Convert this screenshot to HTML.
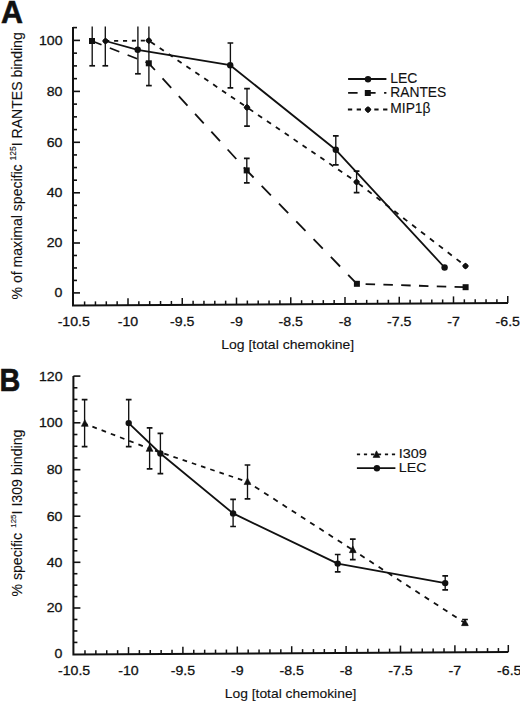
<!DOCTYPE html><html><head><meta charset="utf-8"><title>Chemokine binding</title><style>html,body{margin:0;padding:0;background:#fff;overflow:hidden}svg{display:block}text{font-family:"Liberation Sans",sans-serif;fill:#111;stroke:#111;stroke-width:0.12px}.t{stroke-width:0.28px}</style></head><body>
<svg width="520" height="704" viewBox="0 0 520 704">
<rect width="520" height="704" fill="#fff"/>
<g stroke="#111" fill="#111" stroke-linecap="butt">
<text transform="translate(1.0,23.4) scale(0.95,1)" font-size="32" font-weight="bold" style="stroke-width:0.6px">A</text>
<path d="M73.0,27.1 V305.5 L508.0,303.1" fill="none" stroke-width="2" stroke-linejoin="miter"/>
<line x1="73.00" y1="292.90" x2="80.00" y2="292.90" stroke-width="1.6" />
<text class="t" transform="translate(62.50,297.30) scale(1.09,1)" font-size="13" text-anchor="end">0</text>
<line x1="73.00" y1="280.42" x2="77.00" y2="280.42" stroke-width="1.6" />
<line x1="73.00" y1="267.95" x2="77.00" y2="267.95" stroke-width="1.6" />
<line x1="73.00" y1="255.47" x2="77.00" y2="255.47" stroke-width="1.6" />
<line x1="73.00" y1="243.00" x2="80.00" y2="243.00" stroke-width="1.6" />
<text class="t" transform="translate(62.50,247.40) scale(1.09,1)" font-size="13" text-anchor="end">20</text>
<line x1="73.00" y1="230.45" x2="77.00" y2="230.45" stroke-width="1.6" />
<line x1="73.00" y1="217.90" x2="77.00" y2="217.90" stroke-width="1.6" />
<line x1="73.00" y1="205.35" x2="77.00" y2="205.35" stroke-width="1.6" />
<line x1="73.00" y1="192.80" x2="80.00" y2="192.80" stroke-width="1.6" />
<text class="t" transform="translate(62.50,197.20) scale(1.09,1)" font-size="13" text-anchor="end">40</text>
<line x1="73.00" y1="180.18" x2="77.00" y2="180.18" stroke-width="1.6" />
<line x1="73.00" y1="167.55" x2="77.00" y2="167.55" stroke-width="1.6" />
<line x1="73.00" y1="154.93" x2="77.00" y2="154.93" stroke-width="1.6" />
<line x1="73.00" y1="142.30" x2="80.00" y2="142.30" stroke-width="1.6" />
<text class="t" transform="translate(62.50,146.70) scale(1.09,1)" font-size="13" text-anchor="end">60</text>
<line x1="73.00" y1="129.58" x2="77.00" y2="129.58" stroke-width="1.6" />
<line x1="73.00" y1="116.85" x2="77.00" y2="116.85" stroke-width="1.6" />
<line x1="73.00" y1="104.12" x2="77.00" y2="104.12" stroke-width="1.6" />
<line x1="73.00" y1="91.40" x2="80.00" y2="91.40" stroke-width="1.6" />
<text class="t" transform="translate(62.50,95.80) scale(1.09,1)" font-size="13" text-anchor="end">80</text>
<line x1="73.00" y1="78.65" x2="77.00" y2="78.65" stroke-width="1.6" />
<line x1="73.00" y1="65.90" x2="77.00" y2="65.90" stroke-width="1.6" />
<line x1="73.00" y1="53.15" x2="77.00" y2="53.15" stroke-width="1.6" />
<line x1="73.00" y1="40.40" x2="80.00" y2="40.40" stroke-width="1.6" />
<text class="t" transform="translate(62.50,44.80) scale(1.09,1)" font-size="13" text-anchor="end">100</text>
<line x1="73.00" y1="27.60" x2="77.00" y2="27.60" stroke-width="1.6" />
<line x1="84.60" y1="305.44" x2="84.60" y2="301.44" stroke-width="1.5" />
<line x1="95.45" y1="305.38" x2="95.45" y2="301.38" stroke-width="1.5" />
<line x1="106.30" y1="305.32" x2="106.30" y2="301.32" stroke-width="1.5" />
<line x1="117.15" y1="305.26" x2="117.15" y2="301.26" stroke-width="1.5" />
<line x1="128.00" y1="305.20" x2="128.00" y2="298.20" stroke-width="1.5" />
<line x1="138.85" y1="305.14" x2="138.85" y2="301.14" stroke-width="1.5" />
<line x1="149.70" y1="305.08" x2="149.70" y2="301.08" stroke-width="1.5" />
<line x1="160.55" y1="305.02" x2="160.55" y2="301.02" stroke-width="1.5" />
<line x1="171.40" y1="304.96" x2="171.40" y2="300.96" stroke-width="1.5" />
<line x1="182.25" y1="304.90" x2="182.25" y2="297.90" stroke-width="1.5" />
<line x1="193.10" y1="304.84" x2="193.10" y2="300.84" stroke-width="1.5" />
<line x1="203.95" y1="304.78" x2="203.95" y2="300.78" stroke-width="1.5" />
<line x1="214.80" y1="304.72" x2="214.80" y2="300.72" stroke-width="1.5" />
<line x1="225.65" y1="304.66" x2="225.65" y2="300.66" stroke-width="1.5" />
<line x1="236.50" y1="304.60" x2="236.50" y2="297.60" stroke-width="1.5" />
<line x1="247.35" y1="304.54" x2="247.35" y2="300.54" stroke-width="1.5" />
<line x1="258.20" y1="304.48" x2="258.20" y2="300.48" stroke-width="1.5" />
<line x1="269.05" y1="304.42" x2="269.05" y2="300.42" stroke-width="1.5" />
<line x1="279.90" y1="304.36" x2="279.90" y2="300.36" stroke-width="1.5" />
<line x1="290.75" y1="304.30" x2="290.75" y2="297.30" stroke-width="1.5" />
<line x1="301.60" y1="304.24" x2="301.60" y2="300.24" stroke-width="1.5" />
<line x1="312.45" y1="304.18" x2="312.45" y2="300.18" stroke-width="1.5" />
<line x1="323.30" y1="304.12" x2="323.30" y2="300.12" stroke-width="1.5" />
<line x1="334.15" y1="304.06" x2="334.15" y2="300.06" stroke-width="1.5" />
<line x1="345.00" y1="304.00" x2="345.00" y2="297.00" stroke-width="1.5" />
<line x1="355.85" y1="303.94" x2="355.85" y2="299.94" stroke-width="1.5" />
<line x1="366.70" y1="303.88" x2="366.70" y2="299.88" stroke-width="1.5" />
<line x1="377.55" y1="303.82" x2="377.55" y2="299.82" stroke-width="1.5" />
<line x1="388.40" y1="303.76" x2="388.40" y2="299.76" stroke-width="1.5" />
<line x1="399.25" y1="303.70" x2="399.25" y2="296.70" stroke-width="1.5" />
<line x1="410.10" y1="303.64" x2="410.10" y2="299.64" stroke-width="1.5" />
<line x1="420.95" y1="303.58" x2="420.95" y2="299.58" stroke-width="1.5" />
<line x1="431.80" y1="303.52" x2="431.80" y2="299.52" stroke-width="1.5" />
<line x1="442.65" y1="303.46" x2="442.65" y2="299.46" stroke-width="1.5" />
<line x1="453.50" y1="303.40" x2="453.50" y2="296.40" stroke-width="1.5" />
<line x1="464.35" y1="303.34" x2="464.35" y2="299.34" stroke-width="1.5" />
<line x1="475.20" y1="303.28" x2="475.20" y2="299.28" stroke-width="1.5" />
<line x1="486.05" y1="303.22" x2="486.05" y2="299.22" stroke-width="1.5" />
<line x1="496.90" y1="303.16" x2="496.90" y2="299.16" stroke-width="1.5" />
<line x1="507.75" y1="303.10" x2="507.75" y2="296.10" stroke-width="1.5" />
<text class="t" transform="translate(73.75,326.30) scale(1.09,1)" font-size="13" text-anchor="middle">-10.5</text>
<text class="t" transform="translate(128.00,326.30) scale(1.09,1)" font-size="13" text-anchor="middle">-10</text>
<text class="t" transform="translate(182.25,326.30) scale(1.09,1)" font-size="13" text-anchor="middle">-9.5</text>
<text class="t" transform="translate(236.50,326.30) scale(1.09,1)" font-size="13" text-anchor="middle">-9</text>
<text class="t" transform="translate(290.75,326.30) scale(1.09,1)" font-size="13" text-anchor="middle">-8.5</text>
<text class="t" transform="translate(345.00,326.30) scale(1.09,1)" font-size="13" text-anchor="middle">-8</text>
<text class="t" transform="translate(399.25,326.30) scale(1.09,1)" font-size="13" text-anchor="middle">-7.5</text>
<text class="t" transform="translate(453.50,326.30) scale(1.09,1)" font-size="13" text-anchor="middle">-7</text>
<text class="t" transform="translate(507.75,326.30) scale(1.09,1)" font-size="13" text-anchor="middle">-6.5</text>
<text transform="translate(287.70,349.10) scale(1.03,1)" font-size="13.6" text-anchor="middle">Log [total chemokine]</text>
<text transform="translate(22.3,299.4) rotate(-90)" font-size="14.05">% of maximal specific <tspan font-size="8.5" dy="-6.8">125</tspan><tspan dy="6.8">I RANTES binding</tspan></text>
<path d="M92.20,26.60 V65.80" fill="none" stroke-width="1.35"/>
<path d="M89.35,65.80 H95.05" fill="none" stroke-width="1.7"/>
<path d="M105.30,26.60 V65.80" fill="none" stroke-width="1.35"/>
<path d="M102.45,65.80 H108.15" fill="none" stroke-width="1.7"/>
<path d="M137.90,26.60 V73.80" fill="none" stroke-width="1.35"/>
<path d="M135.05,73.80 H140.75" fill="none" stroke-width="1.7"/>
<path d="M148.90,26.60 V85.60" fill="none" stroke-width="1.35"/>
<path d="M146.05,85.60 H151.75" fill="none" stroke-width="1.7"/>
<path d="M230.40,43.00 V87.90" fill="none" stroke-width="1.35"/>
<path d="M227.55,43.00 H233.25 M227.55,87.90 H233.25" fill="none" stroke-width="1.7"/>
<path d="M247.00,88.70 V126.20" fill="none" stroke-width="1.35"/>
<path d="M244.15,88.70 H249.85 M244.15,126.20 H249.85" fill="none" stroke-width="1.7"/>
<path d="M246.80,158.30 V182.90" fill="none" stroke-width="1.35"/>
<path d="M243.95,158.30 H249.65 M243.95,182.90 H249.65" fill="none" stroke-width="1.7"/>
<path d="M335.80,135.80 V164.80" fill="none" stroke-width="1.35"/>
<path d="M332.95,135.80 H338.65 M332.95,164.80 H338.65" fill="none" stroke-width="1.7"/>
<path d="M356.60,171.20 V192.70" fill="none" stroke-width="1.35"/>
<path d="M353.75,171.20 H359.45 M353.75,192.70 H359.45" fill="none" stroke-width="1.7"/>
<path d="M105.50,41.00 L137.70,49.80 L230.20,65.20 L335.80,149.80 L444.60,267.50" fill="none" stroke-width="1.8" stroke-linejoin="round"/>
<line x1="92.00" y1="41.00" x2="148.80" y2="63.30" stroke-width="1.8" stroke-dasharray="10.21 8.92" stroke-dashoffset="0.00"/>
<line x1="148.80" y1="63.30" x2="246.70" y2="170.40" stroke-width="1.8" stroke-dasharray="12.87 11.25" stroke-dashoffset="3.79"/>
<line x1="246.70" y1="170.40" x2="356.90" y2="283.80" stroke-width="1.8" stroke-dasharray="13.25 11.57" stroke-dashoffset="3.35"/>
<line x1="356.90" y1="283.80" x2="465.60" y2="287.20" stroke-width="1.8" stroke-dasharray="9.50 8.30" stroke-dashoffset="9.10"/>
<line x1="105.50" y1="41.00" x2="148.80" y2="40.60" stroke-width="1.8" stroke-dasharray="4.10 4.80" stroke-dashoffset="0.30"/>
<line x1="148.80" y1="40.60" x2="247.00" y2="107.40" stroke-width="1.8" stroke-dasharray="4.96 5.81" stroke-dashoffset="8.35"/>
<line x1="247.00" y1="107.40" x2="356.60" y2="182.00" stroke-width="1.8" stroke-dasharray="4.96 5.81" stroke-dashoffset="8.23"/>
<line x1="356.60" y1="182.00" x2="465.50" y2="266.00" stroke-width="1.8" stroke-dasharray="5.18 6.06" stroke-dashoffset="8.59"/>
<rect x="89.00" y="38.00" width="6" height="6" stroke="none"/>
<rect x="145.80" y="60.30" width="6" height="6" stroke="none"/>
<rect x="243.70" y="167.40" width="6" height="6" stroke="none"/>
<rect x="353.90" y="280.80" width="6" height="6" stroke="none"/>
<rect x="462.60" y="284.20" width="6" height="6" stroke="none"/>
<circle cx="137.70" cy="49.80" r="3.2" stroke="none"/>
<circle cx="230.20" cy="65.20" r="3.2" stroke="none"/>
<circle cx="335.80" cy="149.80" r="3.2" stroke="none"/>
<circle cx="444.60" cy="267.50" r="3.2" stroke="none"/>
<path d="M105.50,38.40 L108.10,41.00 L105.50,43.60 L102.90,41.00Z" stroke-width="1.4" stroke-linejoin="round"/>
<circle cx="105.50" cy="41.00" r="2.55" stroke="none"/>
<path d="M148.80,38.00 L151.40,40.60 L148.80,43.20 L146.20,40.60Z" stroke-width="1.4" stroke-linejoin="round"/>
<circle cx="148.80" cy="40.60" r="2.55" stroke="none"/>
<path d="M247.00,104.80 L249.60,107.40 L247.00,110.00 L244.40,107.40Z" stroke-width="1.4" stroke-linejoin="round"/>
<circle cx="247.00" cy="107.40" r="2.55" stroke="none"/>
<path d="M356.60,179.40 L359.20,182.00 L356.60,184.60 L354.00,182.00Z" stroke-width="1.4" stroke-linejoin="round"/>
<circle cx="356.60" cy="182.00" r="2.55" stroke="none"/>
<path d="M465.50,263.40 L468.10,266.00 L465.50,268.60 L462.90,266.00Z" stroke-width="1.4" stroke-linejoin="round"/>
<circle cx="465.50" cy="266.00" r="2.55" stroke="none"/>
<line x1="348.10" y1="79.00" x2="386.40" y2="79.00" stroke-width="1.8" />
<circle cx="368.00" cy="79.30" r="3.2" stroke="none"/>
<line x1="348.10" y1="92.90" x2="386.40" y2="92.90" stroke-width="1.8" stroke-dasharray="9.50 8.50" stroke-dashoffset="0.00"/>
<rect x="364.80" y="90.00" width="6" height="6" stroke="none"/>
<line x1="347.90" y1="109.50" x2="387.40" y2="109.50" stroke-width="1.8" stroke-dasharray="4.30 4.50" stroke-dashoffset="0.00"/>
<path d="M368.00,107.00 L370.60,109.60 L368.00,112.20 L365.40,109.60Z" stroke-width="1.4" stroke-linejoin="round"/>
<circle cx="368.00" cy="109.60" r="2.55" stroke="none"/>
<text transform="translate(390.20,82.50) scale(1.0,1)" font-size="14" text-anchor="start">LEC</text>
<text transform="translate(390.30,96.50) scale(1.0,1)" font-size="13.8" text-anchor="start">RANTES</text>
<text transform="translate(390.30,112.80) scale(1.0,1)" font-size="13.8" text-anchor="start">MIP1β</text>
<text transform="translate(-0.6,391.0) scale(0.9,1)" font-size="32" font-weight="bold" style="stroke-width:0.6px">B</text>
<path d="M73.4,376.1 V654.4 L508.3,652.0" fill="none" stroke-width="2" stroke-linejoin="miter"/>
<text class="t" transform="translate(62.50,658.30) scale(1.09,1)" font-size="13" text-anchor="end">0</text>
<line x1="73.40" y1="642.42" x2="77.40" y2="642.42" stroke-width="1.6" />
<line x1="73.40" y1="630.95" x2="77.40" y2="630.95" stroke-width="1.6" />
<line x1="73.40" y1="619.48" x2="77.40" y2="619.48" stroke-width="1.6" />
<line x1="73.40" y1="608.00" x2="80.40" y2="608.00" stroke-width="1.6" />
<text class="t" transform="translate(62.50,612.40) scale(1.09,1)" font-size="13" text-anchor="end">20</text>
<line x1="73.40" y1="596.58" x2="77.40" y2="596.58" stroke-width="1.6" />
<line x1="73.40" y1="585.15" x2="77.40" y2="585.15" stroke-width="1.6" />
<line x1="73.40" y1="573.72" x2="77.40" y2="573.72" stroke-width="1.6" />
<line x1="73.40" y1="562.30" x2="80.40" y2="562.30" stroke-width="1.6" />
<text class="t" transform="translate(62.50,566.70) scale(1.09,1)" font-size="13" text-anchor="end">40</text>
<line x1="73.40" y1="550.77" x2="77.40" y2="550.77" stroke-width="1.6" />
<line x1="73.40" y1="539.25" x2="77.40" y2="539.25" stroke-width="1.6" />
<line x1="73.40" y1="527.73" x2="77.40" y2="527.73" stroke-width="1.6" />
<line x1="73.40" y1="516.20" x2="80.40" y2="516.20" stroke-width="1.6" />
<text class="t" transform="translate(62.50,520.60) scale(1.09,1)" font-size="13" text-anchor="end">60</text>
<line x1="73.40" y1="504.58" x2="77.40" y2="504.58" stroke-width="1.6" />
<line x1="73.40" y1="492.95" x2="77.40" y2="492.95" stroke-width="1.6" />
<line x1="73.40" y1="481.32" x2="77.40" y2="481.32" stroke-width="1.6" />
<line x1="73.40" y1="469.70" x2="80.40" y2="469.70" stroke-width="1.6" />
<text class="t" transform="translate(62.50,474.10) scale(1.09,1)" font-size="13" text-anchor="end">80</text>
<line x1="73.40" y1="457.98" x2="77.40" y2="457.98" stroke-width="1.6" />
<line x1="73.40" y1="446.25" x2="77.40" y2="446.25" stroke-width="1.6" />
<line x1="73.40" y1="434.52" x2="77.40" y2="434.52" stroke-width="1.6" />
<line x1="73.40" y1="422.80" x2="80.40" y2="422.80" stroke-width="1.6" />
<text class="t" transform="translate(62.50,427.20) scale(1.09,1)" font-size="13" text-anchor="end">100</text>
<line x1="73.40" y1="411.12" x2="77.40" y2="411.12" stroke-width="1.6" />
<line x1="73.40" y1="399.45" x2="77.40" y2="399.45" stroke-width="1.6" />
<line x1="73.40" y1="387.78" x2="77.40" y2="387.78" stroke-width="1.6" />
<line x1="73.40" y1="376.10" x2="80.40" y2="376.10" stroke-width="1.6" />
<text class="t" transform="translate(62.50,380.50) scale(1.09,1)" font-size="13" text-anchor="end">120</text>
<line x1="84.98" y1="654.34" x2="84.98" y2="650.34" stroke-width="1.5" />
<line x1="95.86" y1="654.28" x2="95.86" y2="650.28" stroke-width="1.5" />
<line x1="106.74" y1="654.22" x2="106.74" y2="650.22" stroke-width="1.5" />
<line x1="117.62" y1="654.16" x2="117.62" y2="650.16" stroke-width="1.5" />
<line x1="128.50" y1="654.10" x2="128.50" y2="647.10" stroke-width="1.5" />
<line x1="139.38" y1="654.04" x2="139.38" y2="650.04" stroke-width="1.5" />
<line x1="150.26" y1="653.98" x2="150.26" y2="649.98" stroke-width="1.5" />
<line x1="161.14" y1="653.92" x2="161.14" y2="649.92" stroke-width="1.5" />
<line x1="172.02" y1="653.86" x2="172.02" y2="649.86" stroke-width="1.5" />
<line x1="182.90" y1="653.80" x2="182.90" y2="646.80" stroke-width="1.5" />
<line x1="193.78" y1="653.74" x2="193.78" y2="649.74" stroke-width="1.5" />
<line x1="204.66" y1="653.68" x2="204.66" y2="649.68" stroke-width="1.5" />
<line x1="215.54" y1="653.62" x2="215.54" y2="649.62" stroke-width="1.5" />
<line x1="226.42" y1="653.56" x2="226.42" y2="649.56" stroke-width="1.5" />
<line x1="237.30" y1="653.50" x2="237.30" y2="646.50" stroke-width="1.5" />
<line x1="248.18" y1="653.44" x2="248.18" y2="649.44" stroke-width="1.5" />
<line x1="259.06" y1="653.38" x2="259.06" y2="649.38" stroke-width="1.5" />
<line x1="269.94" y1="653.32" x2="269.94" y2="649.32" stroke-width="1.5" />
<line x1="280.82" y1="653.26" x2="280.82" y2="649.26" stroke-width="1.5" />
<line x1="291.70" y1="653.20" x2="291.70" y2="646.20" stroke-width="1.5" />
<line x1="302.58" y1="653.14" x2="302.58" y2="649.14" stroke-width="1.5" />
<line x1="313.46" y1="653.08" x2="313.46" y2="649.08" stroke-width="1.5" />
<line x1="324.34" y1="653.02" x2="324.34" y2="649.02" stroke-width="1.5" />
<line x1="335.22" y1="652.96" x2="335.22" y2="648.96" stroke-width="1.5" />
<line x1="346.10" y1="652.90" x2="346.10" y2="645.90" stroke-width="1.5" />
<line x1="356.98" y1="652.84" x2="356.98" y2="648.84" stroke-width="1.5" />
<line x1="367.86" y1="652.78" x2="367.86" y2="648.78" stroke-width="1.5" />
<line x1="378.74" y1="652.71" x2="378.74" y2="648.71" stroke-width="1.5" />
<line x1="389.62" y1="652.65" x2="389.62" y2="648.65" stroke-width="1.5" />
<line x1="400.50" y1="652.59" x2="400.50" y2="645.59" stroke-width="1.5" />
<line x1="411.38" y1="652.53" x2="411.38" y2="648.53" stroke-width="1.5" />
<line x1="422.26" y1="652.47" x2="422.26" y2="648.47" stroke-width="1.5" />
<line x1="433.14" y1="652.41" x2="433.14" y2="648.41" stroke-width="1.5" />
<line x1="444.02" y1="652.35" x2="444.02" y2="648.35" stroke-width="1.5" />
<line x1="454.90" y1="652.29" x2="454.90" y2="645.29" stroke-width="1.5" />
<line x1="465.78" y1="652.23" x2="465.78" y2="648.23" stroke-width="1.5" />
<line x1="476.66" y1="652.17" x2="476.66" y2="648.17" stroke-width="1.5" />
<line x1="487.54" y1="652.11" x2="487.54" y2="648.11" stroke-width="1.5" />
<line x1="498.42" y1="652.05" x2="498.42" y2="648.05" stroke-width="1.5" />
<line x1="508.30" y1="652.00" x2="508.30" y2="645.00" stroke-width="1.5" />
<text class="t" transform="translate(74.10,674.80) scale(1.09,1)" font-size="13" text-anchor="middle">-10.5</text>
<text class="t" transform="translate(128.50,674.80) scale(1.09,1)" font-size="13" text-anchor="middle">-10</text>
<text class="t" transform="translate(182.90,674.80) scale(1.09,1)" font-size="13" text-anchor="middle">-9.5</text>
<text class="t" transform="translate(237.30,674.80) scale(1.09,1)" font-size="13" text-anchor="middle">-9</text>
<text class="t" transform="translate(291.70,674.80) scale(1.09,1)" font-size="13" text-anchor="middle">-8.5</text>
<text class="t" transform="translate(346.10,674.80) scale(1.09,1)" font-size="13" text-anchor="middle">-8</text>
<text class="t" transform="translate(400.50,674.80) scale(1.09,1)" font-size="13" text-anchor="middle">-7.5</text>
<text class="t" transform="translate(454.90,674.80) scale(1.09,1)" font-size="13" text-anchor="middle">-7</text>
<text class="t" transform="translate(509.30,674.80) scale(1.09,1)" font-size="13" text-anchor="middle">-6.5</text>
<text transform="translate(290.60,697.80) scale(1.02,1)" font-size="13.6" text-anchor="middle">Log [total chemokine]</text>
<text transform="translate(22.3,596.6) rotate(-90)" font-size="14.15">% specific <tspan font-size="8" dx="1.2" dy="-6.8">125</tspan><tspan dy="6.8">I I309 binding</tspan></text>
<path d="M84.60,399.60 V446.70" fill="none" stroke-width="1.35"/>
<path d="M81.75,399.60 H87.45 M81.75,446.70 H87.45" fill="none" stroke-width="1.7"/>
<path d="M128.70,399.60 V446.70" fill="none" stroke-width="1.35"/>
<path d="M125.85,399.60 H131.55 M125.85,446.70 H131.55" fill="none" stroke-width="1.7"/>
<path d="M149.60,427.90 V468.80" fill="none" stroke-width="1.35"/>
<path d="M146.75,427.90 H152.45 M146.75,468.80 H152.45" fill="none" stroke-width="1.7"/>
<path d="M160.40,433.30 V473.70" fill="none" stroke-width="1.35"/>
<path d="M157.55,433.30 H163.25 M157.55,473.70 H163.25" fill="none" stroke-width="1.7"/>
<path d="M247.50,465.00 V498.80" fill="none" stroke-width="1.35"/>
<path d="M244.65,465.00 H250.35 M244.65,498.80 H250.35" fill="none" stroke-width="1.7"/>
<path d="M233.10,499.40 V526.50" fill="none" stroke-width="1.35"/>
<path d="M230.25,499.40 H235.95 M230.25,526.50 H235.95" fill="none" stroke-width="1.7"/>
<path d="M352.80,539.10 V559.60" fill="none" stroke-width="1.35"/>
<path d="M349.95,539.10 H355.65 M349.95,559.60 H355.65" fill="none" stroke-width="1.7"/>
<path d="M337.70,554.50 V571.90" fill="none" stroke-width="1.35"/>
<path d="M334.85,554.50 H340.55 M334.85,571.90 H340.55" fill="none" stroke-width="1.7"/>
<path d="M445.20,575.90 V589.90" fill="none" stroke-width="1.35"/>
<path d="M442.35,575.90 H448.05 M442.35,589.90 H448.05" fill="none" stroke-width="1.7"/>
<path d="M465.00,619.50 V624.50" fill="none" stroke-width="1.35"/>
<path d="M462.15,619.50 H467.85 M462.15,624.50 H467.85" fill="none" stroke-width="1.7"/>
<path d="M128.70,423.10 L160.40,453.50 L233.10,513.40 L337.70,563.60 L445.20,583.10" fill="none" stroke-width="1.8" stroke-linejoin="round"/>
<line x1="84.80" y1="423.70" x2="149.60" y2="448.70" stroke-width="1.8" stroke-dasharray="4.72 5.14" stroke-dashoffset="1.71"/>
<line x1="149.60" y1="448.70" x2="247.50" y2="481.90" stroke-width="1.8" stroke-dasharray="4.65 5.07" stroke-dashoffset="4.01"/>
<line x1="247.50" y1="481.90" x2="352.80" y2="550.00" stroke-width="1.8" stroke-dasharray="5.24 5.72" stroke-dashoffset="2.14"/>
<line x1="352.80" y1="550.00" x2="464.90" y2="623.00" stroke-width="1.8" stroke-dasharray="5.25 5.73" stroke-dashoffset="2.15"/>
<path d="M84.80,419.74 L88.20,426.34 L81.40,426.34Z" stroke-width="0.6" stroke-linejoin="round"/>
<path d="M149.60,444.74 L153.00,451.34 L146.20,451.34Z" stroke-width="0.6" stroke-linejoin="round"/>
<path d="M247.50,477.94 L250.90,484.54 L244.10,484.54Z" stroke-width="0.6" stroke-linejoin="round"/>
<path d="M352.80,546.04 L356.20,552.64 L349.40,552.64Z" stroke-width="0.6" stroke-linejoin="round"/>
<path d="M464.90,619.04 L468.30,625.64 L461.50,625.64Z" stroke-width="0.6" stroke-linejoin="round"/>
<circle cx="128.70" cy="423.10" r="3.2" stroke="none"/>
<circle cx="160.40" cy="453.50" r="3.2" stroke="none"/>
<circle cx="233.10" cy="513.40" r="3.2" stroke="none"/>
<circle cx="337.70" cy="563.60" r="3.2" stroke="none"/>
<circle cx="445.20" cy="583.10" r="3.2" stroke="none"/>
<line x1="356.90" y1="454.30" x2="395.40" y2="454.30" stroke-width="1.8" stroke-dasharray="3.20 3.80" stroke-dashoffset="0.00"/>
<path d="M376.50,450.84 L379.90,457.44 L373.10,457.44Z" stroke-width="0.6" stroke-linejoin="round"/>
<line x1="356.90" y1="468.20" x2="395.40" y2="468.20" stroke-width="1.8" />
<circle cx="376.90" cy="468.20" r="3.2" stroke="none"/>
<text transform="translate(398.80,458.30) scale(1.06,1)" font-size="13.6" text-anchor="start">I309</text>
<text transform="translate(398.80,471.60) scale(1.08,1)" font-size="13.2" text-anchor="start">LEC</text>
</g></svg></body></html>
